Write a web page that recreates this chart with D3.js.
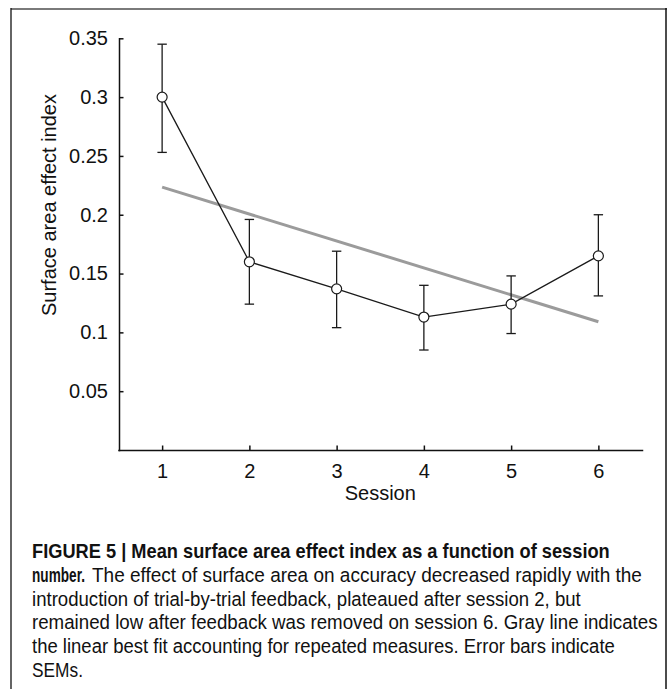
<!DOCTYPE html>
<html>
<head>
<meta charset="utf-8">
<script src="https://cdnjs.cloudflare.com/ajax/libs/d3/7.8.5/d3.min.js"></script>
<style>
  html, body { margin: 0; padding: 0; background: #fff; }
  svg { display: block; }
  .axis text { font-family: "Liberation Sans", Arial, Helvetica, sans-serif; font-size: 20px; fill: #111; }
  .axis path, .axis line { stroke: #111; stroke-width: 1.5px; }
  .cap { font-family: "Liberation Sans Narrow", "Arial Narrow", "Liberation Sans", Arial, sans-serif; font-size: 19.5px; fill: #111; }
</style>
</head>
<body>
<div id="chart"></div>
<script>
// data
var sessions = [1, 2, 3, 4, 5, 6];
var meanIndex = [0.300, 0.160, 0.137, 0.113, 0.124, 0.165];
var errHigh = [0.345, 0.196, 0.169, 0.140, 0.148, 0.200];
var errLow = [0.253, 0.124, 0.104, 0.085, 0.099, 0.131];
var fitSessions = [1, 6];
var fitValues = [0.2235, 0.109];
var yTicks = [0.05, 0.1, 0.15, 0.2, 0.25, 0.3, 0.35];
var yTickLabels = ["0.05", "0.1", "0.15", "0.2", "0.25", "0.3", "0.35"];

var captionBold = "FIGURE 5 | Mean surface area effect index as a function of session";
var captionLines = [
  {bold: "number.", text: "The effect of surface area on accuracy decreased rapidly with the"},
  {bold: "", text: "introduction of trial-by-trial feedback, plateaued after session 2, but"},
  {bold: "", text: "remained low after feedback was removed on session 6. Gray line indicates"},
  {bold: "", text: "the linear best fit accounting for repeated measures. Error bars indicate"},
  {bold: "", text: "SEMs."}
];
var captionWidths = [578, 550, 549, 626, 583, 51];

var W = 668, H = 689;
var svg = d3.select("#chart").append("svg")
    .attr("width", W)
    .attr("height", H);

// figure frame
svg.append("line").attr("x1", 11).attr("x2", 667).attr("y1", 9).attr("y2", 9)
    .attr("stroke", "#7a7a7a").attr("stroke-width", 2.2);
svg.append("line").attr("x1", 11).attr("x2", 11).attr("y1", 8).attr("y2", H)
    .attr("stroke", "#111").attr("stroke-width", 1.3);
svg.append("line").attr("x1", 666).attr("x2", 666).attr("y1", 8).attr("y2", H)
    .attr("stroke", "#111").attr("stroke-width", 1.5);

var x = d3.scaleLinear().domain([0.5, 6.5]).range([118.5, 642]);
var y = d3.scaleLinear().domain([0, 0.35]).range([450, 38.3]);

svg.append("g")
    .attr("class", "axis")
    .attr("transform", "translate(0,450)")
    .call(d3.axisBottom(x).tickValues(sessions).tickFormat(d3.format("d"))
        .tickSizeInner(-4.5).tickSizeOuter(0).tickPadding(14));

svg.append("g")
    .attr("class", "axis")
    .attr("transform", "translate(119,0)")
    .call(d3.axisLeft(y).tickValues(yTicks)
        .tickFormat(function(d, i) { return yTickLabels[i]; })
        .tickSizeInner(-4.5).tickSizeOuter(0).tickPadding(11));

d3.selectAll(".axis path").attr("stroke-linecap", "square");

svg.append("text")
    .attr("transform", "translate(56,205) rotate(-90)")
    .attr("text-anchor", "middle")
    .style("font-family", "'Liberation Sans', Arial, sans-serif")
    .style("font-size", "20px")
    .style("fill", "#111")
    .text("Surface area effect index");

svg.append("text")
    .attr("x", x(3.5))
    .attr("y", 500)
    .attr("text-anchor", "middle")
    .style("font-family", "'Liberation Sans', Arial, sans-serif")
    .style("font-size", "20px")
    .style("fill", "#111")
    .text("Session");

// gray linear fit
svg.append("line")
    .attr("x1", x(fitSessions[0])).attr("y1", y(fitValues[0]))
    .attr("x2", x(fitSessions[1])).attr("y2", y(fitValues[1]))
    .attr("stroke", "#9b9b9b")
    .attr("stroke-width", 3);

// error bars
var bars = svg.append("g").attr("stroke", "#1a1a1a").attr("stroke-width", 1.3);
sessions.forEach(function(s, i) {
  bars.append("line").attr("x1", x(s)).attr("x2", x(s))
      .attr("y1", y(errLow[i])).attr("y2", y(errHigh[i]));
  bars.append("line").attr("x1", x(s) - 4.7).attr("x2", x(s) + 4.7)
      .attr("y1", y(errLow[i])).attr("y2", y(errLow[i]));
  bars.append("line").attr("x1", x(s) - 4.7).attr("x2", x(s) + 4.7)
      .attr("y1", y(errHigh[i])).attr("y2", y(errHigh[i]));
});

var line = d3.line()
    .x(function(d, i) { return x(sessions[i]); })
    .y(function(d) { return y(d); });

svg.append("path")
    .datum(meanIndex)
    .attr("d", line)
    .attr("fill", "none")
    .attr("stroke", "#1a1a1a")
    .attr("stroke-width", 1.3);

svg.selectAll(".pt")
    .data(meanIndex)
    .enter()
    .append("circle")
    .attr("class", "pt")
    .attr("cx", function(d, i) { return x(sessions[i]); })
    .attr("cy", function(d) { return y(d); })
    .attr("r", 5)
    .attr("fill", "#fff")
    .attr("stroke", "#1a1a1a")
    .attr("stroke-width", 1.2);

// caption: squeeze each line horizontally to the measured width (condensed face)
function capText(str, xx, yy, width, bold) {
  var t = svg.append("text")
      .attr("class", "cap")
      .style("font-weight", bold ? "bold" : "normal")
      .text(str);
  var natural = t.node().getComputedTextLength();
  t.attr("transform", "translate(" + xx + "," + yy + ") scale(" + (width / natural) + ",1)");
}

var capX = 32, capY = 558, capStep = 23.8;
capText(captionBold, capX, capY, captionWidths[0], true);

captionLines.forEach(function(l, i) {
  var yy = capY + capStep * (i + 1);
  var xx = capX;
  if (l.bold) {
    capText(l.bold, xx, yy, 53, true);
    xx = 92;
  }
  capText(l.text, xx, yy, captionWidths[i + 1], false);
});
</script>
</body>
</html>
